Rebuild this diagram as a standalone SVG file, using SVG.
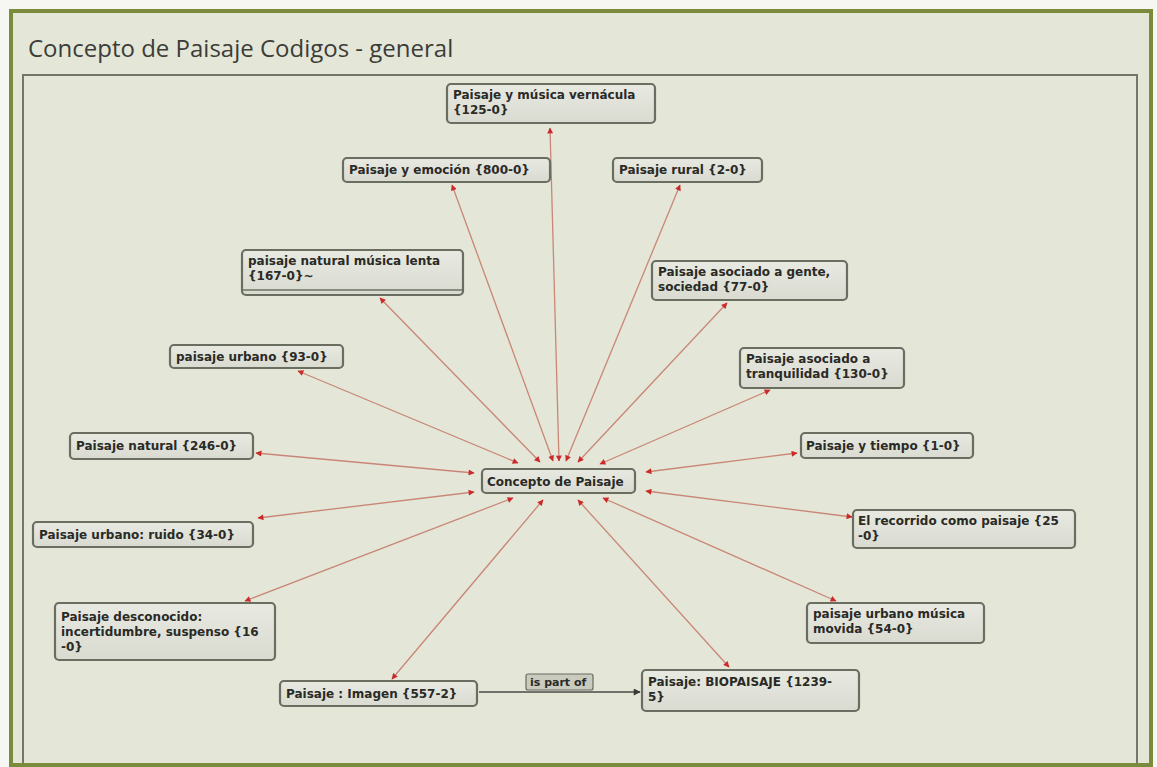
<svg xmlns="http://www.w3.org/2000/svg" width="1157" height="767" viewBox="0 0 1157 767">
<defs>
<style>
.nb{fill:url(#ng);stroke:#6a6e60;stroke-width:2.2}
.nt{font-family:"DejaVu Sans",Verdana,sans-serif;font-weight:bold;font-size:12px;fill:#2a2a26}
.e{stroke:#c98676;stroke-width:1.3;fill:none;marker-start:url(#ar);marker-end:url(#ar)}
.title{font-family:"Open Sans","Noto Sans",sans-serif;font-size:24px;fill:#3c3c38}
</style>
<linearGradient id="ng" x1="0" y1="0" x2="0" y2="1">
<stop offset="0" stop-color="#e8e9e1"/>
<stop offset="1" stop-color="#d9dbd1"/>
</linearGradient>
<marker id="ar" viewBox="0 0 10 10" refX="9" refY="5" markerWidth="7" markerHeight="6" markerUnits="userSpaceOnUse" orient="auto-start-reverse">
<path d="M0,0 L10,5 L0,10 z" fill="#cc2a2a"/>
</marker>
<marker id="ad" viewBox="0 0 10 10" refX="9" refY="5" markerWidth="8" markerHeight="7" markerUnits="userSpaceOnUse" orient="auto">
<path d="M0,0 L10,5 L0,10 z" fill="#3a3a36"/>
</marker>
</defs>
<rect x="0" y="0" width="1157" height="767" fill="#f6f6f2"/>
<rect x="11" y="11" width="1140" height="754" fill="#e4e7d8"/>
<text class="title" x="28" y="57">Concepto de Paisaje Codigos - general</text>
<rect x="23" y="75" width="1114" height="700" fill="#e4e7d8" stroke="#73766a" stroke-width="2"/>
<rect x="11" y="11" width="1140" height="754" fill="none" stroke="#7b8b3c" stroke-width="4"/>

<g id="connectors">
<line class="e" x1="550" y1="128" x2="559" y2="461"/>
<line class="e" x1="452" y1="185" x2="553" y2="461"/>
<line class="e" x1="680" y1="185" x2="566" y2="461"/>
<line class="e" x1="380" y1="298" x2="540" y2="462"/>
<line class="e" x1="298" y1="371" x2="518" y2="463"/>
<line class="e" x1="727" y1="303" x2="578" y2="462"/>
<line class="e" x1="770" y1="390" x2="600" y2="464"/>
<line class="e" x1="256" y1="453" x2="474" y2="473"/>
<line class="e" x1="258" y1="518" x2="474" y2="492"/>
<line class="e" x1="797" y1="453" x2="646" y2="472"/>
<line class="e" x1="852" y1="517" x2="646" y2="491"/>
<line class="e" x1="245" y1="601" x2="513" y2="498"/>
<line class="e" x1="392" y1="679" x2="543" y2="500"/>
<line class="e" x1="729" y1="667" x2="578" y2="500"/>
<line class="e" x1="836" y1="601" x2="603" y2="498"/>
<line x1="479" y1="692" x2="640" y2="692" stroke="#4a4a44" stroke-width="1.3" marker-end="url(#ad)"/>
<rect x="526" y="674" width="67" height="16" rx="2" fill="#c9cbbf" stroke="#6a6a60" stroke-width="1.2"/>
<text class="nt" x="530" y="686" style="font-size:11px">is part of</text>
</g>

<g id="n-vernacula"><rect class="nb" x="447" y="84" width="208" height="39" rx="4"/><text class="nt" x="453" y="99">Paisaje y música vernácula</text><text class="nt" x="453" y="114">{125-0}</text></g>
<g id="n-emocion"><rect class="nb" x="343" y="158" width="207" height="24" rx="4"/><text class="nt" x="349" y="174">Paisaje y emoción {800-0}</text></g>
<g id="n-rural"><rect class="nb" x="613" y="158" width="149" height="24" rx="4"/><text class="nt" x="619" y="174">Paisaje rural {2-0}</text></g>
<g id="n-lenta"><rect class="nb" x="242" y="250" width="221" height="45" rx="4"/><line x1="243" y1="290" x2="462" y2="290" stroke="#6e7264" stroke-width="1.5"/><text class="nt" x="248" y="265">paisaje natural música lenta</text><text class="nt" x="248" y="280">{167-0}~</text></g>
<g id="n-urbano"><rect class="nb" x="170" y="345" width="173" height="23" rx="4"/><text class="nt" x="176" y="361">paisaje urbano {93-0}</text></g>
<g id="n-gente"><rect class="nb" x="652" y="261" width="195" height="39" rx="4"/><text class="nt" x="658" y="276">Paisaje asociado a gente,</text><text class="nt" x="658" y="291">sociedad {77-0}</text></g>
<g id="n-tranquilidad"><rect class="nb" x="740" y="348" width="164" height="40" rx="4"/><text class="nt" x="746" y="363">Paisaje asociado a</text><text class="nt" x="746" y="378">tranquilidad {130-0}</text></g>
<g id="n-natural"><rect class="nb" x="70" y="433" width="183" height="26" rx="4"/><text class="nt" x="76" y="450">Paisaje natural {246-0}</text></g>
<g id="n-ruido"><rect class="nb" x="33" y="522" width="220" height="25" rx="4"/><text class="nt" x="39" y="539">Paisaje urbano: ruido {34-0}</text></g>
<g id="n-concepto"><rect class="nb" x="482" y="469" width="153" height="24" rx="4"/><text class="nt" x="487" y="486">Concepto de Paisaje</text></g>
<g id="n-tiempo"><rect class="nb" x="801" y="433" width="172" height="25" rx="4"/><text class="nt" x="806" y="450">Paisaje y tiempo {1-0}</text></g>
<g id="n-recorrido"><rect class="nb" x="853" y="510" width="222" height="38" rx="4"/><text class="nt" x="858" y="525">El recorrido como paisaje {25</text><text class="nt" x="858" y="540">-0}</text></g>
<g id="n-desconocido"><rect class="nb" x="55" y="603" width="220" height="57" rx="4"/><text class="nt" x="61" y="621">Paisaje desconocido:</text><text class="nt" x="61" y="636">incertidumbre, suspenso {16</text><text class="nt" x="61" y="651">-0}</text></g>
<g id="n-movida"><rect class="nb" x="807" y="603" width="177" height="40" rx="4"/><text class="nt" x="813" y="618">paisaje urbano música</text><text class="nt" x="813" y="633">movida {54-0}</text></g>
<g id="n-imagen"><rect class="nb" x="280" y="681" width="197" height="25" rx="4"/><text class="nt" x="286" y="698">Paisaje : Imagen {557-2}</text></g>
<g id="n-biopaisaje"><rect class="nb" x="642" y="670" width="217" height="41" rx="4"/><text class="nt" x="648" y="686">Paisaje: BIOPAISAJE {1239-</text><text class="nt" x="648" y="701">5}</text></g>
</svg>
